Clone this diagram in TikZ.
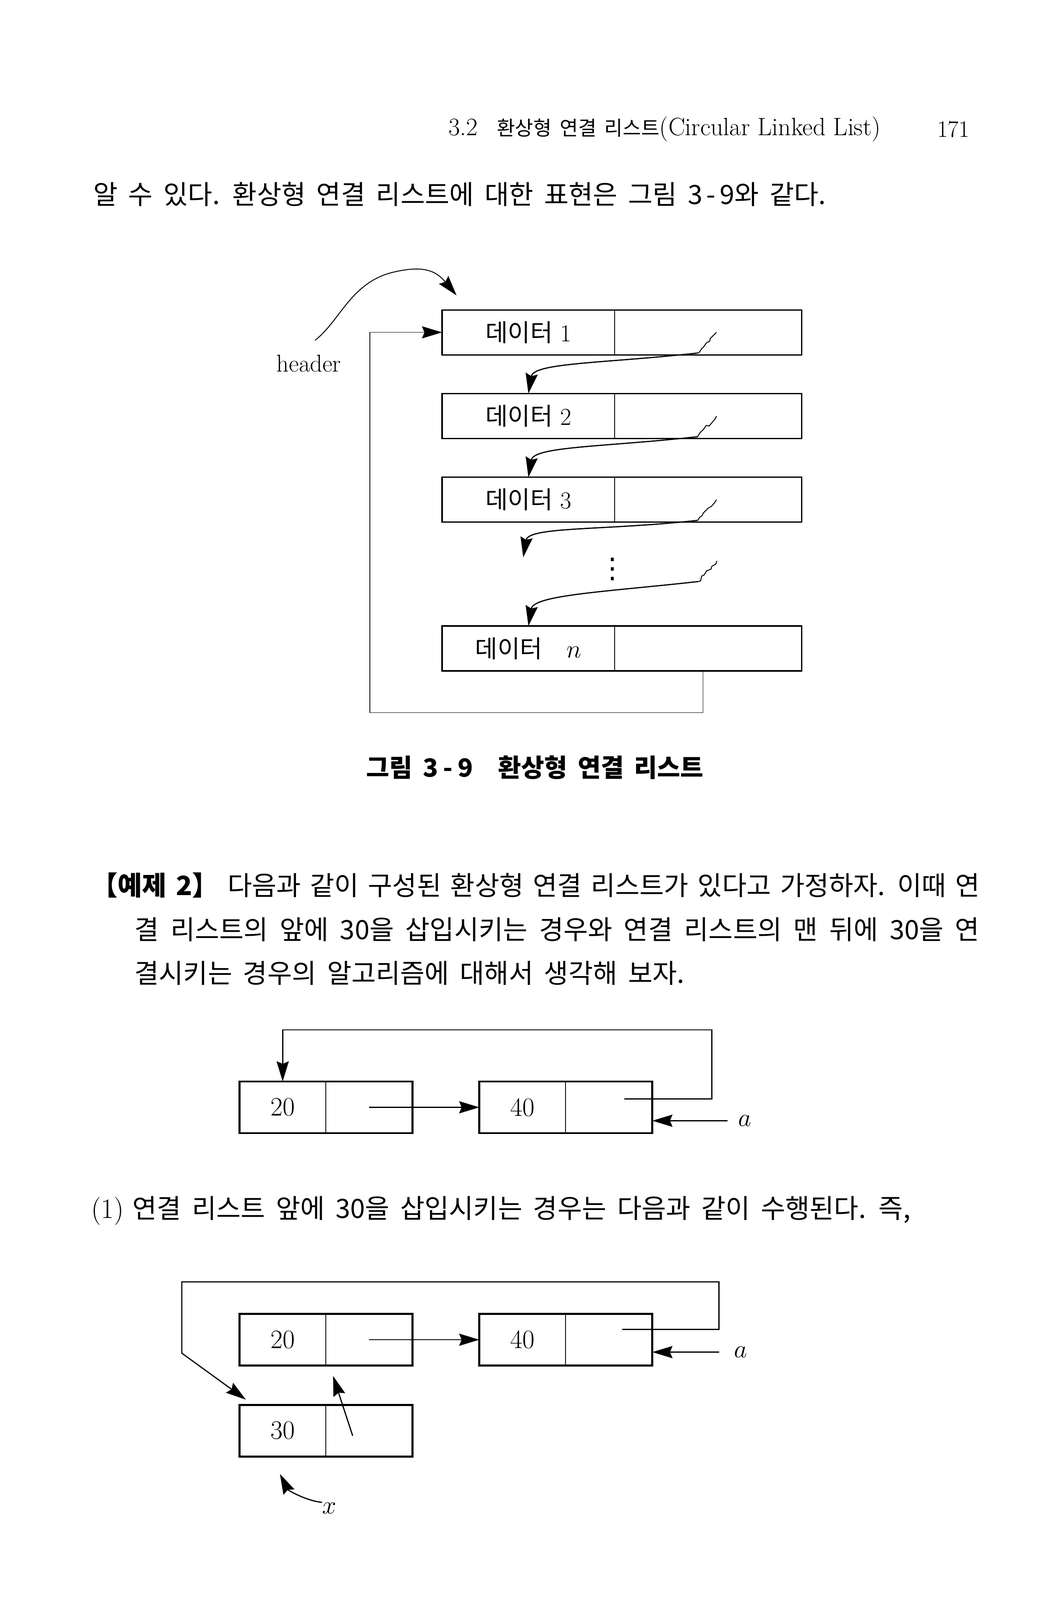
\documentclass[tikz,border=0pt]{standalone}
\usepackage{fontspec}
\usepackage{tikz}
\usetikzlibrary{arrows.meta, positioning, calc, decorations.pathmorphing}
\newfontfamily\kr[WordSpace=1.8]{Noto Sans CJK KR}
\newfontfamily\sym{DejaVu Sans}

\begin{document}
\begin{tikzpicture}[x=0.0246cm, y=-0.0246cm,
    field/.style={draw, line width=0.5pt, inner sep=0pt, outer sep=0pt, anchor=north west},
    bigval/.style={field, minimum width=4.11cm, minimum height=1.07cm, font=\fontsize{16.5}{18}\selectfont},
    bigptr/.style={field, minimum width=4.45cm, minimum height=1.07cm},
    valbox/.style={field, minimum width=2.05cm, minimum height=1.23cm, font=\fontsize{18}{20}\selectfont},
    nxtbox/.style={field, minimum width=2.07cm, minimum height=1.23cm},
    boxline/.style={line width=0.9pt},
    boldbox/.style={line width=1.4pt},
    ptrline/.style={-{Stealth[length=4.8mm, width=2.9mm, inset=0.6mm]}, line width=0.8pt},
    thinptr/.style={-{Stealth[length=4.8mm, width=2.9mm, inset=0.6mm]}, line width=0.45pt},
    wiggly/.style={decorate, decoration={random steps, segment length=2.5pt, amplitude=0.9pt}, line width=0.6pt},
    bodytext/.style={font=\kr\fontsize{18}{20}\selectfont, inner sep=0pt},
    lbl/.style={font=\fontsize{18}{20}\selectfont, inner sep=0pt}
]
\useasboundingbox (0,0) rectangle (1024,1549);

    % running head
    \node[anchor=west, font=\fontsize{17}{18}\selectfont, inner sep=0pt] (runhead) at (434,125)
        {3.2\hspace{0.45cm}{\kr\fontsize{13.5}{16}\selectfont 환상형 연결 리스트}(Circular Linked List)};
    \node[anchor=east, font=\fontsize{16}{18}\selectfont, inner sep=0pt] (pageno) at (939,125) {171};

    \node[bodytext, anchor=west] (intro) at (90,188) {알 수 있다. 환상형 연결 리스트에 대한 표현은 그림 3\kern.15em-\kern.15em9와 같다.};

    % circular list with header
    \foreach \i/\y in {1/300, 2/381, 3/462} {
        \node[bigval] (d\i) at (428,\y) {{\kr 데이터}\ \i};
        \node[bigptr] (p\i) at (d\i.north east) {};
        \draw[boxline] (d\i.north west) rectangle (p\i.south east);
    }
    \node[bigval] (dn) at (428,606) {{\kr 데이터}\quad$n$};
    \node[bigptr] (pn) at (dn.north east) {};
    \draw[boxline] (dn.north west) rectangle (pn.south east);

    \node[font=\sym\fontsize{19}{20}\selectfont, inner sep=0pt] (dots) at (593,551) {⋮};

    \node[font=\fontsize{16.5}{20}\selectfont, inner sep=0pt] (hdr) at (299,352) {header};
    \coordinate (hfrom) at ($(hdr.north)+(6,-14)$);
    \coordinate (htip) at ($(d1.north west)+(14,-14)$);
    \draw[thinptr, line width=0.6pt] (hfrom) .. controls (330,310) and (340,272) .. (383,263)
        .. controls (410,257) and (422,262) .. (htip);

    % next pointers
    \foreach \i in {1,2,3} \coordinate (s\i) at ($(p\i.center)+(8,0)$);
    \coordinate (s4) at ($(dots)+(101,-8)$);
    \coordinate (t3) at ($(d3.south)+(-5,34)$);
    \foreach \a/\b in {s1/d2.north, s2/d3.north, s3/t3, s4/dn.north} {
        \draw[wiggly] (\a) -- ($(\a)+(-18,20)$);
        \draw[ptrline] ($(\a)+(-18,20)$) .. controls +(-90,10) and +(5,-30) .. (\b);
    }

    % back to the first node
    \coordinate (pout) at ($(pn.south)+(-5,0)$);
    \coordinate (back) at (358,690);
    \draw[thinptr] (pout) |- (back) |- (d1.west);

    \node[bodytext, font=\kr\bfseries\fontsize{17}{20}\selectfont] (cap) at (518,743) {그림 3\kern.2em-\kern.2em9\quad 환상형 연결 리스트};

    % example 2
    \node[bodytext, anchor=west] (ex1) at (88,857)
        {\makebox[21.16cm][s]{{\bfseries【예제 2】} 다음과 같이 구성된 환상형 연결 리스트가 있다고 가정하자. 이때 연}};
    \node[bodytext, anchor=west] (ex2) at (130,900)
        {\makebox[20.12cm][s]{결 리스트의 앞에 30을 삽입시키는 경우와 연결 리스트의 맨 뒤에 30을 연}};
    \node[bodytext, anchor=west] (ex3) at (130,942) {결시키는 경우의 알고리즘에 대해서 생각해 보자.};

    % list 20 -> 40
    \node[valbox] (v20) at (232,1047) {20};
    \node[nxtbox] (n20) at (v20.north east) {};
    \node[valbox] (v40) at (464,1047) {40};
    \node[nxtbox] (n40) at (v40.north east) {};
    \foreach \v/\n in {v20/n20, v40/n40} \draw[boldbox] (\v.north west) rectangle (\n.south east);
    \draw[ptrline] (n20.center) -- (v40.west);
    \coordinate (q40) at ($(n40.center)+(15,-8)$);
    \coordinate (top2) at (689,997);
    \draw[ptrline] (q40) -| (top2) -| (v20.north);
    \node[lbl] (a2) at (721,1085) {$a$};
    \draw[ptrline, shorten <=2.5mm] (a2.west) -- (n40.east |- a2.west);

    \node[bodytext, anchor=west] (step1) at (88,1172)
        {\rmfamily\fontsize{19}{20}\selectfont(1)\ {\kr\fontsize{18}{20}\selectfont 연결 리스트 앞에 30을 삽입시키는 경우는 다음과 같이 수행된다. 즉,}};

    % insert 30 at the front
    \node[valbox] (e20) at (232,1272) {20};
    \node[nxtbox] (f20) at (e20.north east) {};
    \node[valbox] (e40) at (464,1272) {40};
    \node[nxtbox] (f40) at (e40.north east) {};
    \node[valbox] (e30) at (232,1360) {30};
    \node[nxtbox] (f30) at (e30.north east) {};
    \foreach \v/\n in {e20/f20, e40/f40, e30/f30} \draw[boldbox] (\v.north west) rectangle (\n.south east);
    \draw[ptrline] (f20.center) -- (e40.west);
    \coordinate (q40b) at ($(f40.center)+(13,-10)$);
    \coordinate (top3) at (696,1241);
    \coordinate (left3) at (176,1310);
    \coordinate (t30) at ($(e30.north west)+(6,-5)$);
    \draw[ptrline] (q40b) -| (top3) -| (left3) -- (t30);
    \node[lbl] (a3) at (717,1309) {$a$};
    \draw[ptrline, shorten <=3.5mm] (a3.west) -- (f40.east |- a3.west);
    \coordinate (s30) at ($(f30.center)+(-16,5)$);
    \coordinate (t20) at ($(f20.south)+(-35,10)$);
    \draw[ptrline] (s30) -- (t20);
    \node[lbl] (vx) at (319,1460) {$x$};
    \coordinate (tx) at ($(e30.south west)+(39,17)$);
    \draw[ptrline] (vx.north west) .. controls +(-14,-1) and +(8,16) .. (tx);
\end{tikzpicture}
\end{document}
